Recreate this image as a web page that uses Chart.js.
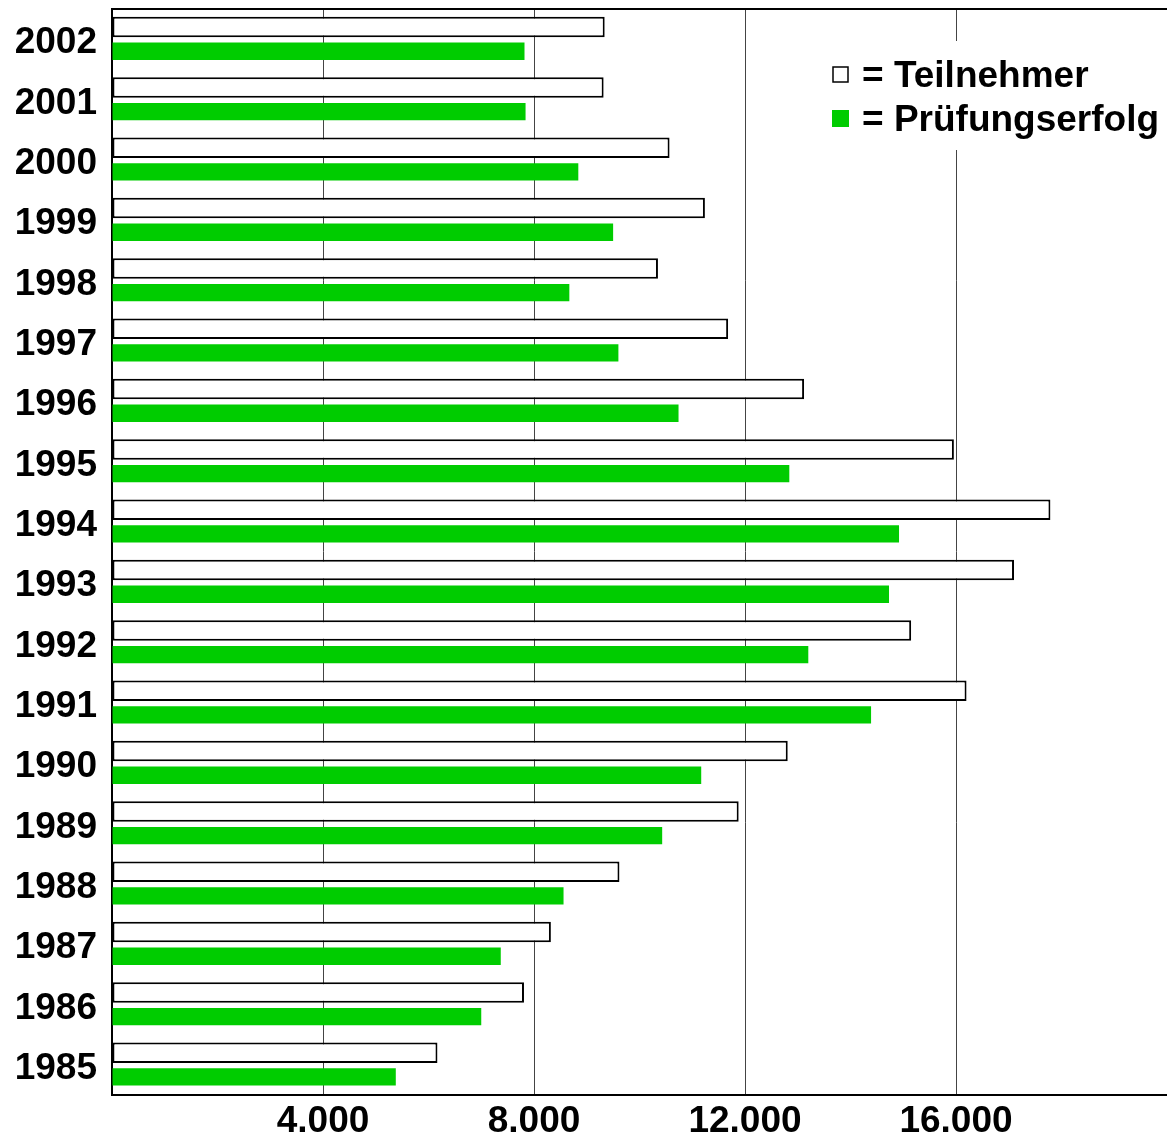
<!DOCTYPE html>
<html>
<head>
<meta charset="utf-8">
<script src="https://cdn.jsdelivr.net/npm/chart.js@4"></script>
<style>
  html, body { margin: 0; padding: 0; background: #fff; }
  #wrap { width: 1167px; height: 1139px; }
</style>
</head>
<body>
<div id="wrap"><canvas id="c" width="1167" height="1139"></canvas></div>
<script>
const years = ['2002','2001','2000','1999','1998','1997','1996','1995','1994','1993','1992','1991','1990','1989','1988','1987','1986','1985'];
const teilnehmer = [9340, 9320, 10570, 11240, 10350, 11680, 13120, 15960, 17790, 17100, 15150, 16200, 12810, 11880, 9620, 8320, 7810, 6170];
const pruefungserfolg = [7820, 7840, 8840, 9500, 8670, 9600, 10740, 12840, 14920, 14730, 13200, 14390, 11170, 10430, 8560, 7370, 7000, 5380];
const xTickValues = [4000, 8000, 12000, 16000];
const seriesNames = ['Teilnehmer', 'Prüfungserfolg'];

const FONT = "'Liberation Sans', Arial, sans-serif";
const GREEN = '#00CC00';

const legendPlugin = {
  id: 'customLegend',
  afterDraw(chart) {
    const ctx = chart.ctx;
    const area = chart.chartArea;
    ctx.save();
    // top frame line
    ctx.strokeStyle = '#000';
    ctx.lineWidth = 2;
    ctx.beginPath();
    ctx.moveTo(area.left, area.top);
    ctx.lineTo(chart.width, area.top);
    ctx.stroke();
    // legend background
    ctx.fillStyle = '#fff';
    ctx.fillRect(822, 41, chart.width - 822, 109);
    ctx.font = 'bold 37px ' + FONT;
    ctx.textBaseline = 'alphabetic';
    // row 1
    ctx.lineWidth = 1.5;
    ctx.strokeStyle = '#000';
    ctx.fillStyle = '#fff';
    ctx.fillRect(833, 67, 15, 15);
    ctx.strokeRect(833, 67, 15, 15);
    ctx.fillStyle = '#000';
    ctx.fillText('= ' + chart.data.datasets[0].label, 862, 87);
    // row 2
    ctx.fillStyle = GREEN;
    ctx.fillRect(832, 110, 17, 17);
    ctx.fillStyle = '#000';
    ctx.fillText('= ' + chart.data.datasets[1].label, 862, 131);
    ctx.restore();
  }
};

new Chart(document.getElementById('c'), {
  type: 'bar',
  data: {
    labels: years,
    datasets: [
      {
        label: seriesNames[0],
        data: teilnehmer,
        backgroundColor: '#fff',
        borderColor: '#000',
        borderWidth: 2,
        borderSkipped: false,
        barPercentage: 0.85,
        categoryPercentage: 0.8
      },
      {
        label: seriesNames[1],
        data: pruefungserfolg,
        backgroundColor: GREEN,
        borderWidth: 0,
        barPercentage: 0.72,
        categoryPercentage: 0.8
      }
    ]
  },
  options: {
    indexAxis: 'y',
    responsive: false,
    animation: false,
    devicePixelRatio: 1,
    layout: { padding: { top: 9, right: 0, left: 0, bottom: 0 } },
    plugins: {
      legend: { display: false },
      tooltip: { enabled: false }
    },
    scales: {
      x: {
        type: 'linear',
        min: 0,
        max: 20000,
        ticks: {
          stepSize: 4000,
          padding: 5,
          color: '#000',
          font: { family: FONT, size: 37, weight: 'bold', lineHeight: 1.2 },
          maxRotation: 0,
          autoSkip: false,
          callback: (v) => xTickValues.includes(v) ? v.toLocaleString('de-DE') : ''
        },
        grid: {
          drawTicks: false,
          lineWidth: 1,
          color: (c) => (c.tick && xTickValues.includes(c.tick.value)) ? '#444' : 'rgba(0,0,0,0)'
        },
        border: { display: true, color: '#000', width: 2 },
        afterFit: (s) => { s.height = 44; s.paddingLeft = 0; s.paddingRight = 0; }
      },
      y: {
        ticks: {
          padding: 15,
          labelOffset: 4,
          color: '#000',
          font: { family: FONT, size: 37, weight: 'bold' },
          autoSkip: false
        },
        grid: { display: false, drawTicks: false },
        border: { display: true, color: '#000', width: 2 },
        afterFit: (s) => { s.width = 112; s.paddingTop = 0; s.paddingBottom = 0; }
      }
    }
  },
  plugins: [legendPlugin]
});
</script>
</body>
</html>
